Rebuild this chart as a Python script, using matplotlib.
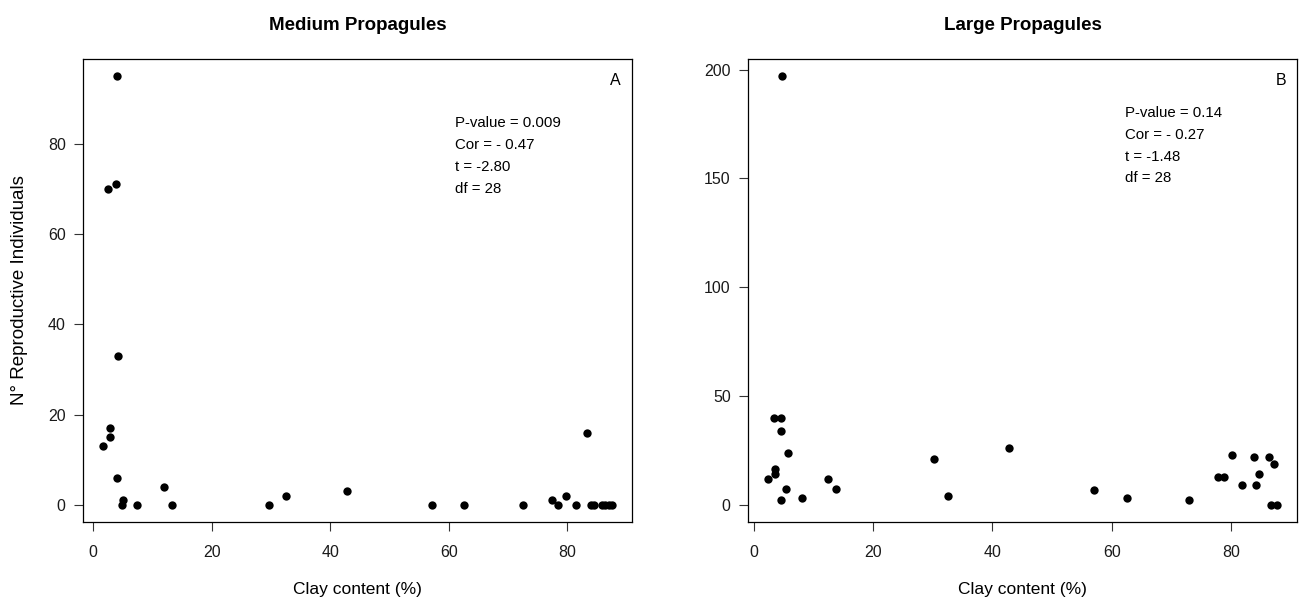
import matplotlib
matplotlib.use("Agg")
from matplotlib import pyplot as plt

plt.rcParams['font.family'] = ['Liberation Sans', 'DejaVu Sans']

# clay content (%) per plot, shared by both panels
clay_medium = [4.0, 2.5, 3.9, 4.2, 2.9, 2.9, 1.7, 4.0, 5.1, 4.8, 7.4, 12.0, 13.3,
               29.6, 32.5, 42.8, 57.1, 62.6, 72.6, 77.4, 78.5, 79.8, 81.5, 83.3,
               84.0, 84.5, 85.9, 86.4, 87.0, 87.5]
repro_medium = [95, 70, 71, 33, 17, 15, 13, 6, 1, 0, 0, 4, 0,
                0, 2, 3, 0, 0, 0, 1, 0, 2, 0, 16,
                0, 0, 0, 0, 0, 0]

clay_large = [4.7, 3.4, 4.5, 4.5, 5.7, 3.5, 3.5, 2.4, 12.4, 5.4, 13.7, 8.0, 4.5,
              30.2, 32.5, 42.8, 57.1, 62.6, 72.9, 77.8, 78.8, 80.2, 81.8, 83.9,
              84.2, 84.7, 86.4, 87.2, 86.7, 87.7]
repro_large = [197, 40, 40, 34, 24, 16.6, 14, 12, 12, 7.4, 7.4, 3.2, 2,
               21, 4, 26, 7, 3, 2, 13, 13, 23, 9, 22,
               9, 14, 22, 19, 0, 0]

stats_medium = ["P-value = 0.009", "Cor = - 0.47", "t = -2.80", "df = 28"]
stats_large = ["P-value = 0.14", "Cor = - 0.27", "t = -1.48", "df = 28"]


def r_limits(values):
    # R's default 4% axis expansion
    lo, hi = min(values), max(values)
    pad = (hi - lo) * 0.04
    return lo - pad, hi + pad


def draw_panel(ax, x, y, title, letter, stats, text_x, text_y, text_step, yticks):
    ax.scatter(x, y, s=36, color='black', linewidths=0, zorder=3)
    ax.set_xlim(*r_limits(x))
    ax.set_ylim(*r_limits(y))
    ax.set_xticks([0, 20, 40, 60, 80])
    ax.set_yticks(yticks)
    ax.tick_params(axis='x', direction='out', length=6.5, width=0.8, pad=10,
                   labelsize=11.5, colors='#333333', labelcolor='#1a1a1a')
    ax.tick_params(axis='y', direction='out', length=6.5, width=0.8, pad=6,
                   labelsize=11.5, colors='#333333', labelcolor='#1a1a1a')
    for spine in ax.spines.values():
        spine.set_linewidth(0.9)
    ax.set_title(title, fontsize=13.5, fontweight='bold', pad=21)
    ax.set_xlabel("Clay content (%)", fontsize=12.5, labelpad=16)
    ax.text(0.98, 0.97, letter, transform=ax.transAxes, ha='right', va='top', fontsize=11.5)
    for i, line in enumerate(stats):
        ax.text(text_x, text_y - i * text_step, line, ha='left', va='center', fontsize=10.8)


fig = plt.figure(figsize=(13.01, 6.0), dpi=100)
ax1 = fig.add_axes([0.0638, 0.13, 0.422, 0.7717])
ax2 = fig.add_axes([0.575, 0.13, 0.422, 0.7717])

draw_panel(ax1, clay_medium, repro_medium, "Medium Propagules", "A",
           stats_medium, 61.0, 84.7, 4.9, [0, 20, 40, 60, 80])
ax1.set_ylabel("N° Reproductive Individuals", fontsize=13.5, labelpad=14)

draw_panel(ax2, clay_large, repro_large, "Large Propagules", "B",
           stats_large, 62.3, 180, 10, [0, 50, 100, 150, 200])

fig.savefig("out.png", dpi=100)
